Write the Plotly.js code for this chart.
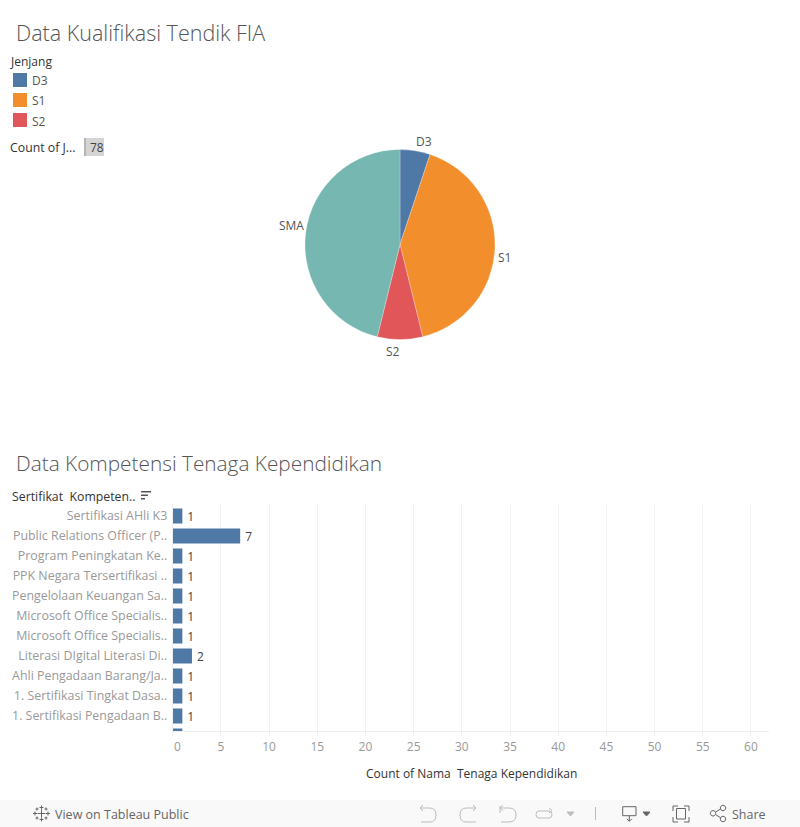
<!DOCTYPE html>
<html>
<head>
<meta charset="utf-8">
<script src="https://cdn.plot.ly/plotly-3.0.1.min.js"></script>
<style>html,body{margin:0;padding:0;background:#fff;overflow:hidden}#chart{width:800px;height:827px}</style>
</head>
<body>
<div id="chart"></div>
<script>
const jenjang = ['D3', 'S1', 'S2', 'SMA'];
const jenjangCounts = [4, 32, 6, 36];
const jenjangColors = ['#4e79a7', '#f28e2b', '#e15759', '#76b7b2'];
const legendItems = ['D3', 'S1', 'S2'];

const sertifikat = [
  'Sertifikasi AHli K3',
  'Public Relations Officer (P..',
  'Program Peningkatan Ke..',
  'PPK Negara Tersertifikasi ..',
  'Pengelolaan Keuangan Sa..',
  'Microsoft Office Specialis..',
  'Microsoft Office Specialis..',
  'Literasi DIgital Literasi Di..',
  'Ahli Pengadaan Barang/Ja..',
  '1. Sertifikasi Tingkat Dasa..',
  '1. Sertifikasi Pengadaan B..',
  ''
];
const sertifikatCounts = [1, 7, 1, 1, 1, 1, 1, 2, 1, 1, 1, 1];
const rowIndex = sertifikat.map((_, i) => i);
const xTicks = [0, 5, 10, 15, 20, 25, 30, 35, 40, 45, 50, 55, 60];

const FONT = '"Open Sans", sans-serif';
const W = 800, H = 827;
const px = x => x / W;
const py = y => 1 - y / H;

function label(text, x, y, size, color, anchor, weight) {
  const a = anchor || 'left';
  return {text, x: px(a === 'left' ? x - 2 : x), y: py(y), xref: 'paper', yref: 'paper', showarrow: false,
    xanchor: a, yanchor: 'middle', font: {size, color, family: FONT, weight: weight || 400}};
}
function rect(x0, y0, x1, y1, fill) {
  return {type: 'rect', xref: 'paper', yref: 'paper', x0: px(x0), x1: px(x1), y0: py(y0), y1: py(y1),
    fillcolor: fill, line: {width: 0}, layer: 'below'};
}
function icon(d, color, fill) {
  const s = {type: 'path', xref: 'x2', yref: 'y2', path: d, line: {color, width: 1}, layer: 'above'};
  if (fill) s.fillcolor = fill;
  return s;
}
function circle(cx, cy, r) {
  const k = r * 0.55;
  return `M${cx - r} ${cy} C${cx - r} ${cy - k} ${cx - k} ${cy - r} ${cx} ${cy - r} C${cx + k} ${cy - r} ${cx + r} ${cy - k} ${cx + r} ${cy} C${cx + r} ${cy + k} ${cx + k} ${cy + r} ${cx} ${cy + r} C${cx - k} ${cy + r} ${cx - r} ${cy + k} ${cx - r} ${cy} Z`;
}
function plus(cx, cy, r) {
  return `M${cx - r} ${cy} H${cx + r} M${cx} ${cy - r} V${cy + r} `;
}

const annotations = [
  label('Data Kualifikasi Tendik FIA', 16, 33, 21.5, '#555555', 'left', 300),
  label('Jenjang', 10, 61, 12, '#333333'),
  label('Count of J...', 10, 147.5, 12.3, '#333333'),
  label('78', 90, 147.5, 12, '#444444'),
  label('Data Kompetensi Tenaga Kependidikan', 16, 463, 20.8, '#555555', 'left', 300),
  label('Sertifikat  Kompeten..', 12, 496, 12.3, '#333333'),
  label('Count of Nama  Tenaga Kependidikan', 471, 773, 12, '#333333', 'center'),
  label('View on Tableau Public', 55, 814, 12.5, '#666666'),
  label('Share', 732, 814, 12.5, '#666666'),
  label('D3', 424, 141, 12, '#555555', 'center'),
  label('S1', 504, 258, 12, '#555555', 'center'),
  label('S2', 393, 351, 12, '#555555', 'center'),
  label('SMA', 291, 225, 12, '#555555', 'center')
];
const shapes = [
  rect(0, 800, 800, 827, '#f9f9f9'),
  rect(86, 138, 104, 156, '#d4d4d4'),
  rect(84, 138, 86, 156, '#b5b5b5'),
  rect(141, 491, 151, 492.5, '#555555'),
  rect(141, 494.5, 148, 496, '#555555'),
  rect(141, 498, 145, 499.5, '#555555')
];
legendItems.forEach((name, i) => {
  const y = 80 + i * 20;
  shapes.push(rect(13, y - 7, 27, y + 7, jenjangColors[jenjang.indexOf(name)]));
  annotations.push(label(name, 32, y + 1, 12, '#555555'));
});

const g = '#bdbdbd', d = '#666666';
[
  ['M420 808 L423 805 M420 808 L423 811 M420 808 H430 Q436 808 436 815 Q436 822 430 822 H421', g],
  ['M476 808 L473 805 M476 808 L473 811 M476 808 H466 Q460 808 460 815 Q460 822 466 822 H476', g],
  ['M500 806 V813 M500 808 H509 Q516 808 516 815 Q516 822 509 822 H501 M500 808 L503 805.5 M500 808 L503 811', g],
  ['M539 811 H549 Q552 811 552 814.5 Q552 818 549 818 H539 Q536 818 536 814.5 Q536 811 539 811 Z M549 808 L552 810.5 L549 813', g],
  ['M567 812 H574 L570.5 816 Z', g, g],
  ['M595.5 807 V820', '#bbbbbb'],
  ['M629.3 815.7 H622.7 V806.7 H636 V815.7 H629.3 V821 M626.8 818.8 L629.3 821.3 L631.8 818.8', d],
  ['M643 812 H650 L646.5 816 Z', d, d],
  ['M673 811 V806 H678 M684 806 H689 V811 M673 817 V822 H678 M684 822 H689 V817', d],
  ['M676.5 808.5 H685.5 V819 H676.5 Z', d],
  ['M715.5 812 L720.7 809 M715.5 814.5 L720.7 817.8', d],
  [circle(713, 813.3, 2.7), d],
  [circle(723, 808, 2.7), d],
  [circle(723, 819, 2.7), d],
  [plus(41.5, 813.5, 4) + plus(35, 813.5, 2) + plus(48, 813.5, 2) + plus(41.5, 807.5, 2) + plus(41.5, 819.5, 2) +
   plus(37, 809, 1.5) + plus(46, 809, 1.5) + plus(37, 818, 1.5) + plus(46, 818, 1.5), d]
].forEach(p => shapes.push(icon(p[0], p[1], p[2])));

const pieTrace = {
  type: 'pie', labels: jenjang, values: jenjangCounts, sort: false, direction: 'clockwise', rotation: 0,
  marker: {colors: jenjangColors, line: {color: '#ffffff', width: 0.25}},
  textinfo: 'none', automargin: false,
  showlegend: false, hoverinfo: 'label+value',
  domain: {x: [px(305), px(495)], y: [py(339.5), py(149.5)]}
};
const barTrace = {
  type: 'bar', orientation: 'h', y: rowIndex, x: sertifikatCounts, width: 0.75,
  marker: {color: jenjangColors[0]}, text: sertifikatCounts.map(v => '\u2009' + v), textposition: 'outside',
  textfont: {size: 12, color: '#444444', family: FONT}, cliponaxis: true,
  constraintext: 'none', showlegend: false, xaxis: 'x', yaxis: 'y',
  hovertemplate: '%{x}<extra></extra>'
};
const helperTrace = {type: 'scatter', x: [0], y: [0], xaxis: 'x2', yaxis: 'y2', mode: 'none', showlegend: false, hoverinfo: 'skip'};

const layout = {
  width: W, height: H, margin: {l: 0, r: 0, t: 0, b: 0, pad: 0}, autosize: false,
  paper_bgcolor: '#ffffff', plot_bgcolor: 'rgba(0,0,0,0)',
  font: {family: FONT, size: 12, color: '#555555'},
  xaxis: {domain: [px(172.7), px(769)], range: [0, 61.87], tickmode: 'array', tickvals: xTicks,
    ticktext: xTicks.map(v => v === 0 ? '\u00a0\u00a0\u00a0' + v : String(v)),
    tickfont: {size: 12, color: '#999999', family: FONT}, ticks: 'outside', ticklen: 4, tickcolor: '#efefef', tickwidth: 1,
    showgrid: true, gridcolor: '#f2f2f2', gridwidth: 1, zeroline: false, showline: true, linecolor: '#efefef', linewidth: 1,
    ticklabelstandoff: 1, anchor: 'y', fixedrange: true},
  yaxis: {domain: [py(731), py(504)], range: [10.75, -0.6], tickmode: 'array', tickvals: rowIndex.slice(0, 11), ticktext: sertifikat.slice(0, 11),
    tickfont: {size: 12.4, color: '#999999', family: FONT}, ticks: '', ticklabelstandoff: 2,
    showgrid: false, zeroline: false, showline: true, linecolor: '#efefef', linewidth: 1, anchor: 'x', fixedrange: true},
  xaxis2: {domain: [0, 1], range: [0, W], visible: false, anchor: 'y2', fixedrange: true},
  yaxis2: {domain: [0, 1], range: [H, 0], visible: false, anchor: 'x2', fixedrange: true},
  bargap: 0.25, annotations, shapes
};
Plotly.newPlot('chart', [barTrace, pieTrace, helperTrace], layout, {displayModeBar: false, staticPlot: true});
</script>
</body>
</html>
